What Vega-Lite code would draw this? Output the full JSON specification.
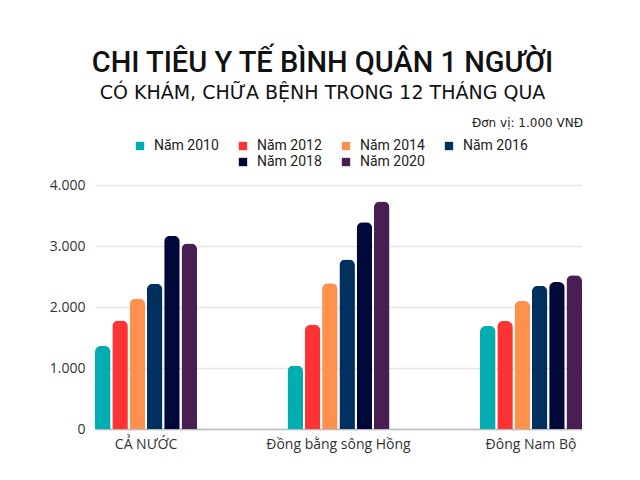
{
  "$schema": "https://vega.github.io/schema/vega-lite/v6.json",
  "width": 487,
  "height": 244,
  "autosize": {"type": "none"},
  "padding": {"left": 95, "top": 185, "right": 58, "bottom": 51},
  "background": "white",
  "title": {
    "text": "CHI TIÊU Y TẾ BÌNH QUÂN 1 NGƯỜI",
    "subtitle": "CÓ KHÁM, CHỮA BỆNH TRONG 12 THÁNG QUA",
    "anchor": "middle",
    "frame": "group",
    "dx": -16,
    "font": "Roboto",
    "fontSize": 29,
    "fontWeight": 500,
    "color": "#111111",
    "subtitleFont": "DejaVu Sans",
    "subtitleFontSize": 19,
    "subtitleColor": "#111111",
    "subtitlePadding": 6,
    "offset": 14
  },
  "datasets": {
    "bars": [
      {"region": "CẢ NƯỚC", "year": "Năm 2010", "value": 1360},
      {"region": "CẢ NƯỚC", "year": "Năm 2012", "value": 1780},
      {"region": "CẢ NƯỚC", "year": "Năm 2014", "value": 2140},
      {"region": "CẢ NƯỚC", "year": "Năm 2016", "value": 2380},
      {"region": "CẢ NƯỚC", "year": "Năm 2018", "value": 3170},
      {"region": "CẢ NƯỚC", "year": "Năm 2020", "value": 3040},
      {"region": "Đồng bằng sông Hồng", "year": "Năm 2010", "value": 1040},
      {"region": "Đồng bằng sông Hồng", "year": "Năm 2012", "value": 1710},
      {"region": "Đồng bằng sông Hồng", "year": "Năm 2014", "value": 2390},
      {"region": "Đồng bằng sông Hồng", "year": "Năm 2016", "value": 2780},
      {"region": "Đồng bằng sông Hồng", "year": "Năm 2018", "value": 3390},
      {"region": "Đồng bằng sông Hồng", "year": "Năm 2020", "value": 3730},
      {"region": "Đông Nam Bộ", "year": "Năm 2010", "value": 1690},
      {"region": "Đông Nam Bộ", "year": "Năm 2012", "value": 1770},
      {"region": "Đông Nam Bộ", "year": "Năm 2014", "value": 2100},
      {"region": "Đông Nam Bộ", "year": "Năm 2016", "value": 2350},
      {"region": "Đông Nam Bộ", "year": "Năm 2018", "value": 2410},
      {"region": "Đông Nam Bộ", "year": "Năm 2020", "value": 2520}
    ],
    "note": [{"note": "Đơn vị: 1.000 VNĐ"}]
  },
  "config": {
    "view": {"stroke": null},
    "axis": {"labelFont": "Open Sans", "labelColor": "#333333", "labelFontSize": 14},
    "legend": {
      "title": null, "direction": "horizontal",
      "symbolType": "square", "symbolSize": 70, "symbolStrokeWidth": 0,
      "columnPadding": 17, "rowPadding": 3,
      "labelFont": "Roboto", "labelFontSize": 14, "labelColor": "#222222", "labelOffset": 7
    }
  },
  "resolve": {"scale": {"color": "independent"}},
  "layer": [
    {
      "data": {"name": "bars"},
      "transform": [{"filter": "indexof(['Năm 2010','Năm 2012','Năm 2014','Năm 2016'], datum.year) >= 0"}],
      "mark": {"type": "bar", "cornerRadiusTopLeft": 6, "cornerRadiusTopRight": 6},
      "encoding": {
        "x": {
          "field": "region", "type": "nominal", "sort": null,
          "scale": {"paddingInner": 0.47, "paddingOuter": 0},
          "axis": {"title": null, "labelAngle": 0, "ticks": false, "domainColor": "#BBBBBB", "domainWidth": 1.5, "labelPadding": 8}
        },
        "xOffset": {
          "field": "year", "type": "nominal",
          "scale": {"domain": ["Năm 2010", "Năm 2012", "Năm 2014", "Năm 2016", "Năm 2018", "Năm 2020"], "paddingInner": 0.1}
        },
        "y": {
          "field": "value", "type": "quantitative",
          "scale": {"domain": [0, 4000], "nice": false},
          "axis": {"title": null, "values": [0, 1000, 2000, 3000, 4000], "domain": false, "ticks": false, "gridColor": "#E6E6E6", "gridWidth": 1.5, "labelPadding": 10, "labelExpr": "replace(format(datum.value, ','), ',', '.')"}
        },
        "color": {
          "field": "year", "type": "nominal",
          "scale": {
            "domain": ["Năm 2010", "Năm 2012", "Năm 2014", "Năm 2016"],
            "range": ["#00ADB0", "#FF3333", "#FF914D", "#00305E"]
          },
          "legend": {"orient": "none", "legendX": 38, "legendY": -46, "columns": 4}
        }
      }
    },
    {
      "data": {"name": "bars"},
      "transform": [{"filter": "indexof(['Năm 2018','Năm 2020'], datum.year) >= 0"}],
      "mark": {"type": "bar", "cornerRadiusTopLeft": 6, "cornerRadiusTopRight": 6},
      "encoding": {
        "x": {"field": "region", "type": "nominal", "sort": null},
        "xOffset": {"field": "year", "type": "nominal"},
        "y": {"field": "value", "type": "quantitative", "scale": {"domain": [0, 4000], "nice": false}},
        "color": {
          "field": "year", "type": "nominal",
          "scale": {"domain": ["Năm 2018", "Năm 2020"], "range": ["#000839", "#481E53"]},
          "legend": {"orient": "none", "legendX": 141, "legendY": -30, "columns": 2}
        }
      }
    },
    {
      "data": {"name": "note"},
      "mark": {"type": "text", "align": "right", "baseline": "middle", "dx": 52, "font": "DejaVu Sans", "fontSize": 12, "color": "#222222"},
      "encoding": {
        "x": {"datum": "Đông Nam Bộ", "type": "nominal"},
        "y": {"datum": 5020, "type": "quantitative", "scale": {"domain": [0, 4000], "nice": false}},
        "text": {"field": "note"}
      }
    }
  ]
}
